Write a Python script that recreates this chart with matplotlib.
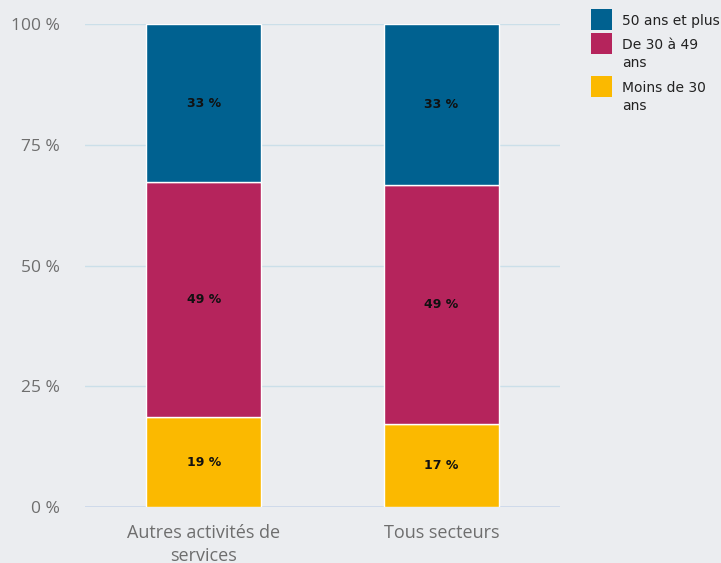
import numpy as np
import matplotlib.pyplot as plt
from matplotlib.patches import Rectangle

categories = ['Autres activités de\nservices', 'Tous secteurs']
moins_30 = [18.6, 17.2]
de_30_49 = [48.6, 49.4]
plus_50 = [32.8, 33.4]

series = [
    ('Moins de 30\nans', moins_30, '#fbb900'),
    ('De 30 à 49\nans', de_30_49, '#b5245c'),
    ('50 ans et plus', plus_50, '#006190'),
]

W, H = 721, 563
bg = '#ebedf0'
fig = plt.figure(figsize=(W / 100, H / 100), dpi=100, facecolor=bg)
ax = fig.add_axes([85 / W, 56 / H, 475 / W, 483 / H], facecolor=bg)

x = np.arange(len(categories))
bottom = np.zeros(len(categories))
for name, vals, col in series:
    vals = np.array(vals)
    ax.bar(x, vals, 0.484, bottom=bottom, color=col, edgecolor='white', linewidth=1, zorder=3)
    for xi, b, v in zip(x, bottom, vals):
        ax.text(xi, b + v / 2, '{:.0f} %'.format(v), ha='center', va='center',
                fontsize=9, fontweight='bold', color='#111111',
                family=['Liberation Sans Narrow', 'DejaVu Sans'], zorder=4)
    bottom += vals

ax.set_xlim(-0.5, 1.5)
ax.set_ylim(0, 100)
ax.set_yticks([0, 25, 50, 75, 100])
ax.set_yticklabels(['0 %', '25 %', '50 %', '75 %', '100 %'])
ax.set_xticks(x)
ax.set_xticklabels(categories)
ax.tick_params(axis='both', length=0, colors='#6e6e6e')
ax.tick_params(axis='y', pad=18, labelsize=12.5)
ax.tick_params(axis='x', pad=12, labelsize=13)
for lab in ax.get_xticklabels() + ax.get_yticklabels():
    lab.set_family(['Open Sans', 'DejaVu Sans'])
    lab.set_linespacing(1.35)
ax.grid(axis='y', color='#cbdfe9', linewidth=1, zorder=0)
for s in ax.spines.values():
    s.set_visible(False)
ax.axhline(0, color='#ccd6eb', linewidth=1.2, zorder=1)

# legend drawn by hand: square aligned with the first line of each label
row_tops = [9, 33, 76]
for (name, vals, col), top in zip(series[::-1], row_tops):
    fig.add_artist(Rectangle((591 / W, 1 - (top + 21) / H), 21 / W, 21 / H,
                             transform=fig.transFigure, facecolor=col, edgecolor='none'))
    fig.text(622 / W, 1 - (top + 5) / H, name, ha='left', va='top', fontsize=10,
             color='#222222', linespacing=1.4)

fig.savefig('out.png', dpi=100, facecolor=bg)
